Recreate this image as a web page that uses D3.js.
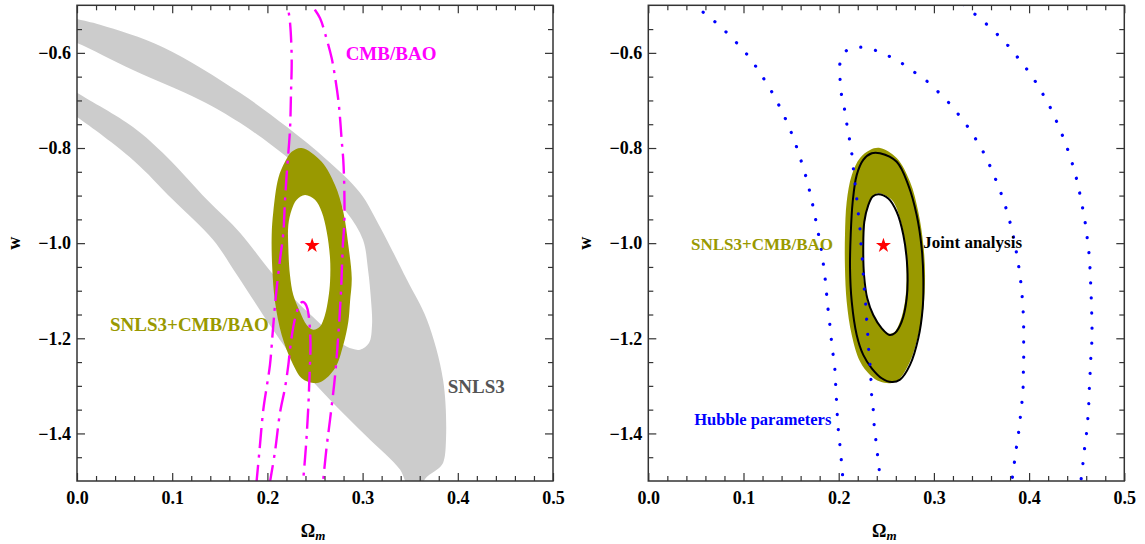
<!DOCTYPE html>
<html><head><meta charset="utf-8">
<script src="https://cdn.jsdelivr.net/npm/d3@7"></script>
<style>body{margin:0;background:#fff}svg{display:block}text{font-family:"Liberation Serif","Times New Roman",serif;font-weight:bold}</style>
</head><body><svg id="c" width="1145" height="544"></svg>
<script>
// ---------- tick values ----------
const xTicks=[0,0.1,0.2,0.3,0.4,0.5];
const yTicks=[-1.4,-1.2,-1.0,-0.8,-0.6];
const xMinor=[0.02,0.04,0.06,0.08,0.12,0.14,0.16,0.18,0.22,0.24,0.26,0.28,0.32,0.34,0.36,0.38,0.42,0.44,0.46,0.48];
const yMinor=[-1.45,-1.35,-1.3,-1.25,-1.15,-1.1,-1.05,-0.95,-0.9,-0.85,-0.75,-0.7,-0.65,-0.55];

// ---------- best fit ----------
const bestFit=[0.247,-1.005];

// ---------- SNLS3 (left panel, gray band = outer minus inner) ----------
const snlsOuter=[[-0.018,-0.519],[0,-0.529],[0.0242,-0.541],[0.0903,-0.588],[0.1712,-0.684],[0.2206,-0.756],[0.2626,-0.825],[0.2973,-0.894],[0.3183,-0.966],[0.3466,-1.077],[0.3676,-1.161],[0.3845,-1.287],[0.3876,-1.413],[0.3845,-1.462],[0.3782,-1.476],[0.3676,-1.491],[0.3603,-1.508],[0.3477,-1.508],[0.3393,-1.476],[0.3046,-1.407],[0.2689,-1.336],[0.2342,-1.260],[0.2059,-1.182],[0.1681,-1.067],[0.1429,-0.993],[0.1008,-0.909],[0.0588,-0.825],[0,-0.735],[-0.018,-0.712]];
const snlsInner=[[-0.018,-0.567],[0,-0.579],[0.0588,-0.636],[0.1292,-0.699],[0.1712,-0.747],[0.2206,-0.819],[0.2553,-0.882],[0.2836,-0.936],[0.3004,-0.993],[0.3057,-1.056],[0.3088,-1.119],[0.3099,-1.172],[0.3067,-1.210],[0.2973,-1.224],[0.2836,-1.218],[0.271,-1.199],[0.2532,-1.165],[0.229,-1.119],[0.1996,-1.050],[0.1712,-0.978],[0.1366,-0.909],[0.0945,-0.819],[0.0588,-0.756],[0,-0.684],[-0.018,-0.661]];

// ---------- SNLS3+CMB/BAO (olive ring) ----------
const comboOuterL=[[0.2360,-0.800],[0.2570,-0.829],[0.2710,-0.878],[0.2797,-0.934],[0.2850,-1.004],[0.2886,-1.074],[0.2868,-1.123],[0.2850,-1.165],[0.2797,-1.214],[0.2710,-1.263],[0.2570,-1.291],[0.2482,-1.294],[0.2360,-1.284],[0.2255,-1.249],[0.2150,-1.193],[0.2080,-1.123],[0.2051,-1.053],[0.2045,-0.983],[0.2062,-0.934],[0.2115,-0.863],[0.2185,-0.829],[0.2255,-0.808]];
const comboInnerL=[[0.2395,-0.899],[0.2500,-0.909],[0.2570,-0.934],[0.2623,-0.976],[0.2658,-1.032],[0.2658,-1.081],[0.2640,-1.116],[0.2605,-1.151],[0.2553,-1.175],[0.2482,-1.182],[0.2413,-1.172],[0.2342,-1.144],[0.2272,-1.109],[0.2237,-1.067],[0.2220,-1.011],[0.2220,-0.962],[0.2255,-0.930],[0.2308,-0.909]];
const comboOuterR=[[0.2434,-0.800],[0.2609,-0.821],[0.2749,-0.871],[0.2836,-0.934],[0.2889,-1.004],[0.2907,-1.067],[0.2889,-1.137],[0.2836,-1.193],[0.2749,-1.249],[0.2644,-1.284],[0.2557,-1.294],[0.2434,-1.291],[0.2329,-1.277],[0.2224,-1.249],[0.2137,-1.193],[0.2084,-1.123],[0.2066,-1.053],[0.2066,-0.983],[0.2084,-0.913],[0.2137,-0.857],[0.2224,-0.821],[0.2329,-0.804]];
const comboInnerR=[[0.2416,-0.895],[0.2557,-0.909],[0.2644,-0.948],[0.2696,-1.004],[0.2714,-1.067],[0.2696,-1.123],[0.2644,-1.165],[0.2574,-1.189],[0.2504,-1.189],[0.2434,-1.175],[0.2363,-1.151],[0.2294,-1.116],[0.2258,-1.067],[0.2258,-1.011],[0.2276,-0.955],[0.2311,-0.920],[0.2363,-0.902]];

// ---------- CMB/BAO (magenta dash-dot) ----------
const cmbOuter=[[0.1883,-1.508],[0.1915,-1.440],[0.1957,-1.350],[0.1996,-1.298],[0.2027,-1.256],[0.2062,-1.172],[0.209,-1.109],[0.2132,-1.035],[0.2167,-0.979],[0.2185,-0.909],[0.2206,-0.846],[0.2237,-0.762],[0.2248,-0.684],[0.2255,-0.611],[0.2237,-0.535],[0.2211,-0.499],[0.2195,-0.478],[0.2321,-0.436],[0.2395,-0.472],[0.2465,-0.499],[0.2553,-0.527],[0.2605,-0.559],[0.2675,-0.611],[0.2710,-0.650],[0.2745,-0.699],[0.2763,-0.737],[0.2780,-0.783],[0.2797,-0.825],[0.2808,-0.888],[0.2808,-0.955],[0.2791,-1.010],[0.2773,-1.102],[0.2745,-1.193],[0.2710,-1.280],[0.2658,-1.371],[0.2623,-1.427],[0.2587,-1.497],[0.2582,-1.508]];
const cmbInner=[[0.2022,-1.508],[0.208,-1.438],[0.2132,-1.357],[0.2185,-1.304],[0.222,-1.256],[0.2237,-1.224],[0.2272,-1.176],[0.23,-1.151],[0.2327,-1.134],[0.2353,-1.125],[0.2379,-1.124],[0.24,-1.128],[0.2421,-1.138],[0.2437,-1.157],[0.2447,-1.182],[0.2453,-1.214],[0.2447,-1.256],[0.244,-1.291],[0.243,-1.343],[0.2405,-1.427],[0.2377,-1.497],[0.2374,-1.508]];

// ---------- Joint analysis (black) ----------
const jointOuter=[[0.2434,-0.811],[0.2609,-0.829],[0.2731,-0.878],[0.2819,-0.941],[0.2872,-1.011],[0.2889,-1.074],[0.2882,-1.137],[0.2836,-1.200],[0.2749,-1.256],[0.2644,-1.287],[0.2557,-1.292],[0.2452,-1.284],[0.2347,-1.263],[0.2258,-1.235],[0.2189,-1.193],[0.2137,-1.123],[0.2119,-1.053],[0.2126,-0.983],[0.2147,-0.913],[0.2189,-0.857],[0.2258,-0.825],[0.2347,-0.811]];
const jointInner=[[0.2416,-0.897],[0.2521,-0.906],[0.2609,-0.934],[0.2679,-0.983],[0.2721,-1.053],[0.2714,-1.116],[0.2662,-1.165],[0.2591,-1.189],[0.2532,-1.193],[0.2452,-1.179],[0.2363,-1.151],[0.23,-1.116],[0.2266,-1.067],[0.2258,-1.011],[0.2269,-0.955],[0.2311,-0.920],[0.2357,-0.902]];

// ---------- Hubble parameters (blue dotted) ----------
const hubOuter=[[0.035,-0.47],[0.0501,-0.502],[0.063,-0.523],[0.0753,-0.544],[0.0866,-0.566],[0.0974,-0.589],[0.1076,-0.613],[0.1166,-0.640],[0.125,-0.666],[0.1331,-0.694],[0.1401,-0.722],[0.1471,-0.752],[0.1527,-0.781],[0.158,-0.811],[0.1628,-0.842],[0.1674,-0.873],[0.1709,-0.904],[0.1744,-0.935],[0.1772,-0.966],[0.1804,-0.998],[0.1828,-1.029],[0.1849,-1.060],[0.1867,-1.093],[0.188,-1.124],[0.1898,-1.156],[0.1916,-1.188],[0.193,-1.219],[0.1954,-1.252],[0.1965,-1.284],[0.1972,-1.315],[0.1982,-1.347],[0.1989,-1.378],[0.2006,-1.411],[0.2021,-1.442],[0.2035,-1.474],[0.2048,-1.506]];
const hubOuterR=[[0.318,-0.48],[0.3316,-0.499],[0.3421,-0.517],[0.3544,-0.538],[0.366,-0.560],[0.3771,-0.583],[0.3873,-0.608],[0.3971,-0.633],[0.4062,-0.659],[0.4143,-0.686],[0.422,-0.714],[0.4286,-0.743],[0.4349,-0.773],[0.4405,-0.803],[0.4454,-0.833],[0.4496,-0.863],[0.4532,-0.895],[0.4563,-0.927],[0.459,-0.958],[0.4611,-0.990],[0.4629,-1.021],[0.464,-1.053],[0.4647,-1.086],[0.4653,-1.117],[0.4658,-1.149],[0.4661,-1.181],[0.4658,-1.212],[0.4647,-1.245],[0.464,-1.277],[0.4632,-1.308],[0.4626,-1.340],[0.4616,-1.371],[0.4601,-1.404],[0.458,-1.436],[0.4563,-1.468],[0.4545,-1.499],[0.454,-1.508]];
const hubInner=[[0.2429,-1.508],[0.2426,-1.478],[0.2409,-1.447],[0.2391,-1.415],[0.2373,-1.384],[0.2363,-1.351],[0.2347,-1.322],[0.2339,-1.289],[0.2329,-1.256],[0.2315,-1.224],[0.2305,-1.193],[0.2294,-1.161],[0.2284,-1.130],[0.2269,-1.097],[0.2258,-1.065],[0.2248,-1.034],[0.2234,-1.002],[0.2224,-0.971],[0.2206,-0.938],[0.2189,-0.906],[0.2171,-0.874],[0.2153,-0.842],[0.2137,-0.811],[0.2111,-0.779],[0.2084,-0.748],[0.2059,-0.716],[0.2027,-0.685],[0.2014,-0.653],[0.2014,-0.622],[0.2084,-0.595],[0.2234,-0.588],[0.2389,-0.595],[0.2539,-0.608],[0.2672,-0.623],[0.2805,-0.642],[0.2935,-0.661],[0.305,-0.683],[0.3162,-0.706],[0.3264,-0.731],[0.3358,-0.756],[0.3445,-0.783],[0.3526,-0.811],[0.3592,-0.839],[0.3655,-0.869],[0.3712,-0.899],[0.3761,-0.929],[0.3803,-0.959],[0.3841,-0.992],[0.387,-1.023],[0.3894,-1.053],[0.3915,-1.086],[0.3929,-1.117],[0.3939,-1.149],[0.3943,-1.181],[0.3943,-1.213],[0.3943,-1.245],[0.3939,-1.277],[0.3936,-1.308],[0.3922,-1.341],[0.3904,-1.373],[0.3886,-1.404],[0.3862,-1.436],[0.3841,-1.468],[0.382,-1.499],[0.3815,-1.508]];

// ---------- labels ----------
const leftLabels=["CMB/BAO","SNLS3+CMB/BAO","SNLS3"];
const rightLabels=["SNLS3+CMB/BAO","Joint analysis","Hubble parameters"];

// ================= drawing =================
const svg=d3.select("#c");
const PW=476, TOP=5.3, BOT=481;
const y=d3.scaleLinear().domain([-1.5,-0.5]).range([BOT,TOP]);
const fmt=d3.format(".1f");

function panel(x0,id){
  const x=d3.scaleLinear().domain([0,0.5]).range([x0,x0+PW]);
  const g=svg.append("g");
  g.append("clipPath").attr("id",id).append("rect").attr("x",x0).attr("y",TOP).attr("width",PW).attr("height",BOT-TOP);
  const body=g.append("g").attr("clip-path",`url(#${id})`);
  const ax=g.append("g");
  return {x,g,body,ax};
}
function frame(p,x0){
  const {x,ax}=p;
  const col="#333";
  const mk=(axis,tr,vals,len,lab)=>{
    const a=ax.append("g").attr("transform",tr).call(axis.tickValues(vals).tickSize(-len).tickPadding(lab?lab:3).tickFormat(lab?fmt:""));
    a.select(".domain").remove();
    a.selectAll("line").attr("stroke",col).attr("stroke-width",1.2);
    a.selectAll("text").attr("font-size",18).attr("fill","#000").style("font-weight","bold");
    return a;
  };
  mk(d3.axisBottom(x),`translate(0,${BOT})`,xTicks,8,10);
  mk(d3.axisBottom(x),`translate(0,${BOT})`,xMinor,5,0);
  mk(d3.axisTop(x),`translate(0,${TOP})`,xTicks,8,0);
  mk(d3.axisTop(x),`translate(0,${TOP})`,xMinor,5,0);
  mk(d3.axisLeft(y),`translate(${x0},0)`,yTicks,8,6);
  mk(d3.axisLeft(y),`translate(${x0},0)`,yMinor,5,0);
  mk(d3.axisRight(y),`translate(${x0+PW},0)`,yTicks,8,0);
  mk(d3.axisRight(y),`translate(${x0+PW},0)`,yMinor,5,0);
  ax.append("rect").attr("x",x0).attr("y",TOP).attr("width",PW).attr("height",BOT-TOP)
    .attr("fill","none").attr("stroke",col).attr("stroke-width",1.5);
  // axis titles
  ax.append("text").attr("transform",`translate(${x0-57},${y(-1.0)}) rotate(-90)`).attr("text-anchor","middle")
    .attr("font-size",18).text("w");
  const t=ax.append("text").attr("x",x(0.248)).attr("y",537).attr("text-anchor","middle").attr("font-size",18);
  t.append("tspan").text("Ω");
  t.append("tspan").attr("font-style","italic").attr("font-size",13).attr("dy",3).text("m");
}
function ring(p,outer,inner,fill){
  const l=d3.line().x(d=>p.x(d[0])).y(d=>y(d[1])).curve(d3.curveCatmullRomClosed);
  p.body.append("path").attr("d",l(outer)+l(inner)).attr("fill",fill).attr("fill-rule","evenodd");
}
function curve(p,data,closed){
  const l=d3.line().x(d=>p.x(d[0])).y(d=>y(d[1])).curve(closed?d3.curveCatmullRomClosed:d3.curveCatmullRom);
  return p.body.append("path").attr("d",l(data)).attr("fill","none");
}
function star(p){
  p.body.append("path").attr("d",d3.symbol(d3.symbolStar,70)())
    .attr("transform",`translate(${p.x(bestFit[0])},${y(bestFit[1])})`).attr("fill","#ff0000");
}

// left panel
const L=panel(77,"clipL");
ring(L,snlsOuter,snlsInner,"#cccccc");
ring(L,comboOuterL,comboInnerL,"#999900");
[cmbOuter,cmbInner].forEach(c=>curve(L,c,false).attr("stroke","#ff00ff").attr("stroke-width",2.4).attr("stroke-dasharray","20,7,3,7"));
star(L);
frame(L,77);
const lpos=[[0.2822,-0.615,"#ff00ff",19],[0.0347,-1.184,"#999900",19],[0.3894,-1.3145,"#555555",19]];
leftLabels.forEach((s,i)=>L.g.append("text").attr("x",L.x(lpos[i][0])).attr("y",y(lpos[i][1])).attr("fill",lpos[i][2]).attr("font-size",lpos[i][3]).text(s));

// right panel
const R=panel(648.3,"clipR");
ring(R,comboOuterR,comboInnerR,"#999900");
[jointOuter,jointInner].forEach(c=>curve(R,c,true).attr("stroke","#000").attr("stroke-width",2));
[hubOuter,hubOuterR,hubInner].forEach(c=>curve(R,c,false).attr("stroke","#0000ff").attr("stroke-width",3.2).attr("stroke-linecap","round").attr("stroke-dasharray","0.1,15"));
star(R);
frame(R,648.3);
const rpos=[[0.0449,-1.014,"#999900",17],[0.2889,-1.010,"#000000",17],[0.0483,-1.3817,"#0000ff",16.5]];
rightLabels.forEach((s,i)=>R.g.append("text").attr("x",R.x(rpos[i][0])).attr("y",y(rpos[i][1])).attr("fill",rpos[i][2]).attr("font-size",rpos[i][3]).text(s));
</script></body></html>
